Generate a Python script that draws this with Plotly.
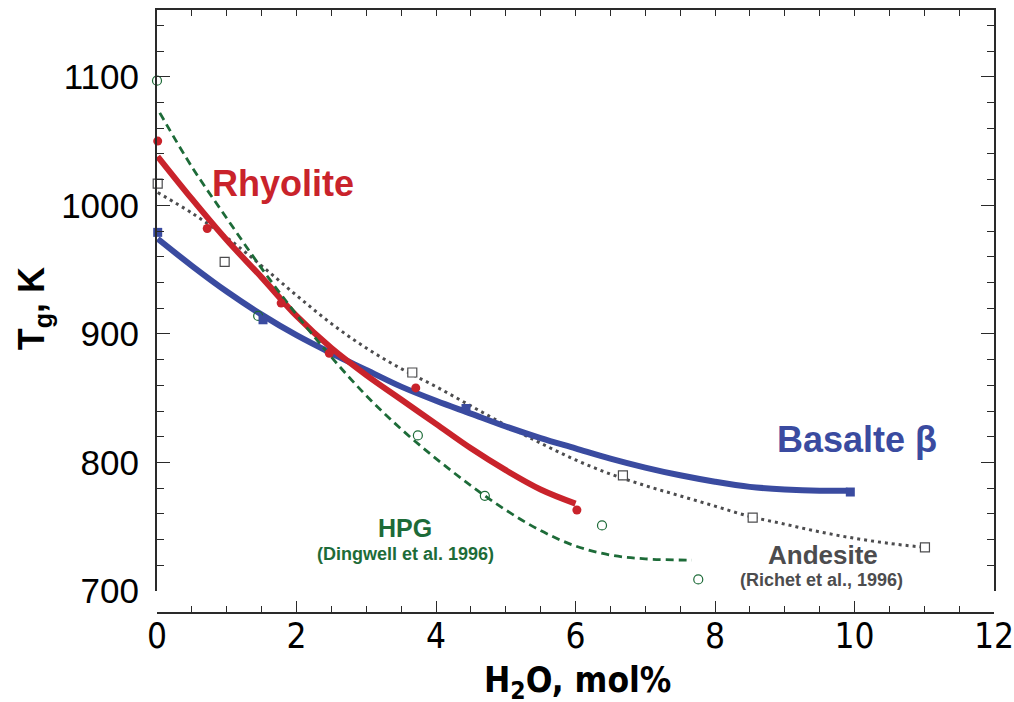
import plotly.graph_objects as go

hpg_pts_x = [0.0, 1.45, 3.74, 4.70, 6.38, 7.76]
hpg_pts_y = [1097, 914, 821, 774, 751, 709]
hpg_fit_x = [0.04, 0.5, 1.0, 1.5, 2.0, 2.5, 3.0, 3.5, 4.0, 4.5, 5.0, 5.5,
             6.0, 6.5, 7.0, 7.67]
hpg_fit_y = [1072, 1030, 990, 951, 915, 882, 852, 826, 803, 782, 763, 747,
             735, 728, 725, 724]

rhy_pts_x = [0.01, 0.72, 1.78, 2.47, 3.71, 6.02]
rhy_pts_y = [1050, 982, 924, 885, 858, 763]
rhy_fit_x = [0.01, 0.5, 1.0, 1.5, 2.0, 2.5, 3.0, 3.5, 4.0, 4.5, 5.0, 5.5, 6.0]
rhy_fit_y = [1038, 1005, 973, 944, 914, 889, 868, 849, 830, 811, 794, 779, 768]

bas_pts_x = [0.01, 1.52, 4.43, 9.94]
bas_pts_y = [979, 911, 842, 777]
bas_fit_x = [0.01, 0.5, 1.0, 1.5, 2.0, 2.5, 3.0, 3.5, 4.0, 4.5, 5.0, 5.5,
             6.0, 6.5, 7.0, 7.5, 8.0, 8.5, 9.0, 9.5, 9.9]
bas_fit_y = [974, 953, 933, 915, 899, 885, 872, 859, 848, 838, 828, 819,
             811, 803, 796, 790, 785, 781, 779, 778, 778]

and_pts_x = [0.01, 0.97, 3.66, 6.68, 8.54, 11.01]
and_pts_y = [1017, 956, 870, 790, 757, 734]
and_fit_x = [0.01, 0.5, 1.0, 1.5, 2.0, 2.5, 3.0, 3.5, 4.0, 4.5, 5.0, 5.5,
             6.0, 6.5, 7.0, 7.5, 8.0, 8.5, 9.0, 9.5, 10.0, 10.5, 11.0]
and_fit_y = [1010, 994, 975, 953, 930, 908, 889, 873, 859, 844, 829, 815,
             802, 791, 782, 774, 766, 758, 752, 746, 741, 737, 734]

RED = "#c9232b"
BLUE = "#3a4ba0"
GREEN = "#1d6b38"
GREY = "#4c4c4e"
AXC = "#2a2a2a"
FONT = "Liberation Sans, Arial, sans-serif"
NARROW = "Liberation Sans Narrow, Arial Narrow, DejaVu Sans Condensed, sans-serif"

fig = go.Figure()

fig.add_trace(go.Scatter(x=and_fit_x, y=and_fit_y, mode="lines",
                         line=dict(color=GREY, width=3, dash="3px,4px", shape="spline")))
fig.add_trace(go.Scatter(x=bas_fit_x, y=bas_fit_y, mode="lines",
                         line=dict(color=BLUE, width=6, shape="spline")))
fig.add_trace(go.Scatter(x=rhy_fit_x, y=rhy_fit_y, mode="lines",
                         line=dict(color=RED, width=6, shape="spline")))
fig.add_trace(go.Scatter(x=hpg_fit_x, y=hpg_fit_y, mode="lines",
                         line=dict(color=GREEN, width=2.8, dash="8px,5px", shape="spline")))

fig.add_trace(go.Scatter(x=hpg_pts_x, y=hpg_pts_y, mode="markers", cliponaxis=False,
                         marker=dict(symbol="circle-open", size=9, color=GREEN,
                                     line=dict(width=1.2))))
fig.add_trace(go.Scatter(x=and_pts_x, y=and_pts_y, mode="markers", cliponaxis=False,
                         marker=dict(symbol="square", size=9, color="white",
                                     line=dict(color=GREY, width=1.2))))
fig.add_trace(go.Scatter(x=rhy_pts_x, y=rhy_pts_y, mode="markers", cliponaxis=False,
                         marker=dict(symbol="circle", size=9, color=RED)))
fig.add_trace(go.Scatter(x=bas_pts_x, y=bas_pts_y, mode="markers", cliponaxis=False,
                         marker=dict(symbol="square", size=9, color=BLUE)))

# empty trace so the top frame axis gets drawn
fig.add_trace(go.Scatter(x=[0], y=[None], xaxis="x2", mode="lines", hoverinfo="skip"))

fig.update_layout(
    width=1014,
    height=702,
    margin=dict(l=157, r=20, t=10, b=89, autoexpand=False),
    paper_bgcolor="white",
    plot_bgcolor="white",
    showlegend=False,
    font=dict(family=FONT, color="black"),
    xaxis=dict(
        range=[0, 12],
        anchor="free",
        position=0,
        automargin=False,
        showgrid=False,
        zeroline=False,
        showline=True,
        linecolor=AXC,
        linewidth=1.6,
        ticks="inside",
        tickvals=[0, 2, 4, 6, 8, 10, 12],
        ticklen=11,
        tickwidth=1.4,
        tickcolor=AXC,
        minor=dict(dtick=0.5, ticks="inside", ticklen=6, tickwidth=1.4, tickcolor=AXC),
        tickfont=dict(family=NARROW, size=35),
        ticklabelstandoff=-8,
        ticklabeloverflow="allow",
    ),
    xaxis2=dict(
        range=[0, 12],
        overlaying="x",
        side="top",
        anchor="y",
        automargin=False,
        showgrid=False,
        zeroline=False,
        showline=True,
        linecolor=AXC,
        linewidth=2,
        ticks="inside",
        dtick=0.5,
        ticklen=6,
        tickwidth=1.4,
        tickcolor=AXC,
        showticklabels=False,
    ),
    yaxis=dict(
        range=[700, 1152],
        domain=[0.0365, 1],
        automargin=False,
        showgrid=False,
        zeroline=False,
        showline=True,
        mirror="ticks",
        linecolor=AXC,
        linewidth=2,
        ticks="inside",
        dtick=100,
        ticklen=13,
        tickwidth=1.4,
        tickcolor=AXC,
        minor=dict(dtick=20, ticks="inside", ticklen=7, tickwidth=1.4, tickcolor=AXC),
        tickfont=dict(family=FONT, size=35),
        ticklabelstandoff=9,
    ),
)

fig.add_annotation(xref="paper", yref="paper", x=-0.146, y=0.505, textangle=-90,
                   xanchor="center", yanchor="middle",
                   text="<b>T<sub>g</sub>, K</b>", showarrow=False,
                   font=dict(family=FONT, size=36))
fig.add_annotation(xref="paper", yref="paper", x=0.502, y=-0.115, yanchor="middle",
                   xanchor="center",
                   text="<b>H<sub>2</sub>O, mol%</b>", showarrow=False,
                   font=dict(family=NARROW, size=35))

fig.add_annotation(x=1.81, y=1017, text="<b>Rhyolite</b>", showarrow=False,
                   font=dict(size=36, color=RED))
fig.add_annotation(x=10.04, y=818, text="<b>Basalte β</b>", showarrow=False,
                   font=dict(size=36, color=BLUE))
fig.add_annotation(x=3.56, y=749, text="<b>HPG</b>", showarrow=False,
                   font=dict(size=25, color=GREEN))
fig.add_annotation(x=3.56, y=729, text="<b>(Dingwell et al. 1996)</b>", showarrow=False,
                   font=dict(size=18, color=GREEN))
fig.add_annotation(x=9.55, y=728, text="<b>Andesite</b>", showarrow=False,
                   font=dict(size=26, color=GREY))
fig.add_annotation(x=9.53, y=708.5, text="<b>(Richet et al., 1996)</b>", showarrow=False,
                   font=dict(size=18, color=GREY))

fig.write_html(
    "out.html",
    config=dict(displayModeBar=False),
    post_script="document.body.style.margin='0';document.body.style.overflow='hidden';",
)
